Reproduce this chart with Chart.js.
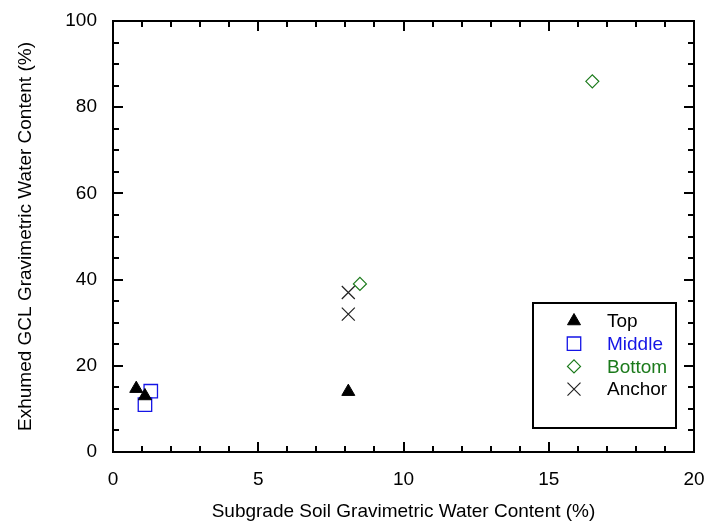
<!DOCTYPE html>
<html>
<head>
<meta charset="utf-8">
<script src="https://cdn.jsdelivr.net/npm/chart.js@4.4.0/dist/chart.umd.min.js"></script>
<style>
html,body{margin:0;padding:0;background:#fff;}
</style>
</head>
<body>
<canvas id="canvas" width="706" height="527"></canvas>
<script>
// 読み取り値
var TOP_X = [0.8, 1.1, 8.1];
var TOP_Y = [14.7, 13.0, 14.0];
var MIDDLE_X = [1.3, 1.1];
var MIDDLE_Y = [14.1, 11.0];
var BOTTOM_X = [8.5, 16.5];
var BOTTOM_Y = [39.0, 86.0];
var ANCHOR_X = [8.1, 8.1];
var ANCHOR_Y = [37.0, 32.0];

var X_LABELS = [0, 5, 10, 15, 20];
var Y_LABELS = [0, 20, 40, 60, 80, 100];
var X_MINOR = [0,1,2,3,4,5,6,7,8,9,10,11,12,13,14,15,16,17,18,19,20];
var Y_MINOR = [0,5,10,15,20,25,30,35,40,45,50,55,60,65,70,75,80,85,90,95,100];

var FONT = {family: '"Liberation Sans", Arial, sans-serif', size: 19};

function pts(xs, ys){
    var out = [];
    for(var i = 0; i < xs.length; i++){
        out.push({x: xs[i], y: ys[i]});
    }
    return out;
}

var DATASETS = [
    {label: 'Top', data: pts(TOP_X, TOP_Y), pointStyle: 'triangle', pointRadius: 7.5,
     backgroundColor: '#000', borderColor: '#000', borderWidth: 1, textColor: '#000'},
    {label: 'Middle', data: pts(MIDDLE_X, MIDDLE_Y), pointStyle: 'rect', pointRadius: 9.5,
     backgroundColor: 'rgba(0,0,0,0)', borderColor: '#1414e6', borderWidth: 1.3, textColor: '#1414e6'},
    {label: 'Bottom', data: pts(BOTTOM_X, BOTTOM_Y), pointStyle: 'rectRot', pointRadius: 6.5,
     backgroundColor: 'rgba(0,0,0,0)', borderColor: '#1b7a1b', borderWidth: 1.2, textColor: '#1b7a1b'},
    {label: 'Anchor', data: pts(ANCHOR_X, ANCHOR_Y), pointStyle: 'crossRot', pointRadius: 9.2,
     backgroundColor: '#222', borderColor: '#222', borderWidth: 1.2, textColor: '#000'}
];

// 枠と内向きの目盛り
var framePlugin = {
    id: 'frame',
    beforeDatasetsDraw: function(chart){
        var ctx = chart.ctx;
        var a = chart.chartArea;
        var xs = chart.scales.x, ys = chart.scales.y;
        ctx.save();
        ctx.strokeStyle = '#000';
        ctx.lineWidth = 2;
        ctx.strokeRect(a.left, a.top, a.right - a.left, a.bottom - a.top);
        ctx.beginPath();
        X_MINOR.forEach(function(v){
            var px = Math.round(xs.getPixelForValue(v));
            var len = (X_LABELS.indexOf(v) >= 0) ? 10 : 6;
            ctx.moveTo(px, a.bottom); ctx.lineTo(px, a.bottom - len);
            ctx.moveTo(px, a.top); ctx.lineTo(px, a.top + len);
        });
        Y_MINOR.forEach(function(v){
            var py = Math.round(ys.getPixelForValue(v));
            var len = (Y_LABELS.indexOf(v) >= 0) ? 10 : 6;
            ctx.moveTo(a.left, py); ctx.lineTo(a.left + len, py);
            ctx.moveTo(a.right, py); ctx.lineTo(a.right - len, py);
        });
        ctx.stroke();
        ctx.restore();
    }
};

// 凡例(枠付き、グラフ内右下)
var legendPlugin = {
    id: 'boxLegend',
    afterDraw: function(chart){
        var ctx = chart.ctx;
        var a = chart.chartArea;
        var w = 143, h = 125;
        var left = a.right - 18 - w, top = a.bottom - 24 - h;
        ctx.save();
        ctx.fillStyle = '#fff';
        ctx.fillRect(left, top, w, h);
        ctx.strokeStyle = '#000';
        ctx.lineWidth = 2;
        ctx.strokeRect(left, top, w, h);
        ctx.font = FONT.size + 'px ' + FONT.family;
        ctx.textBaseline = 'middle';
        ctx.textAlign = 'left';
        DATASETS.forEach(function(ds, i){
            var y = top + 18 + i * 22.7;
            ctx.fillStyle = ds.backgroundColor;
            ctx.strokeStyle = ds.borderColor;
            ctx.lineWidth = ds.borderWidth;
            Chart.helpers.drawPoint(ctx, {pointStyle: ds.pointStyle, radius: ds.pointRadius,
                rotation: 0, borderWidth: ds.borderWidth}, left + 41, y);
            ctx.fillStyle = ds.textColor;
            ctx.fillText(ds.label, left + 74, y + 1);
        });
        ctx.restore();
    }
};

var config = {
    type: 'scatter',
    data: {datasets: DATASETS},
    options: {
        responsive: false,
        animation: false,
        events: [],
        layout: {padding: {top: 21, right: 12, left: 0, bottom: 0}},
        plugins: {legend: {display: false}, tooltip: {enabled: false}},
        scales: {
            x: {
                type: 'linear', min: 0, max: 20,
                grid: {display: false, drawTicks: false},
                border: {display: false},
                afterBuildTicks: function(s){ s.ticks = X_LABELS.map(function(v){ return {value: v}; }); },
                ticks: {color: '#000', font: FONT, padding: 16, maxRotation: 0},
                title: {display: true, text: 'Subgrade Soil Gravimetric Water Content (%)',
                        color: '#000', font: FONT, padding: {top: 0, bottom: 4}},
                afterFit: function(s){ s.height = 527 - 452; s.paddingLeft = 0; s.paddingRight = 0; }
            },
            y: {
                type: 'linear', min: 0, max: 100,
                grid: {display: false, drawTicks: false},
                border: {display: false},
                afterBuildTicks: function(s){ s.ticks = Y_LABELS.map(function(v){ return {value: v}; }); },
                ticks: {color: '#000', font: FONT, padding: 16},
                title: {display: true, text: 'Exhumed GCL Gravimetric Water Content (%)',
                        color: '#000', font: FONT, padding: {top: 14, bottom: 0}},
                afterFit: function(s){ s.width = 113; s.paddingTop = 0; s.paddingBottom = 0; }
            }
        }
    },
    plugins: [framePlugin, legendPlugin]
};

var ctx = document.getElementById('canvas').getContext('2d');
var chart = new Chart(ctx, config);
</script>
</body>
</html>
